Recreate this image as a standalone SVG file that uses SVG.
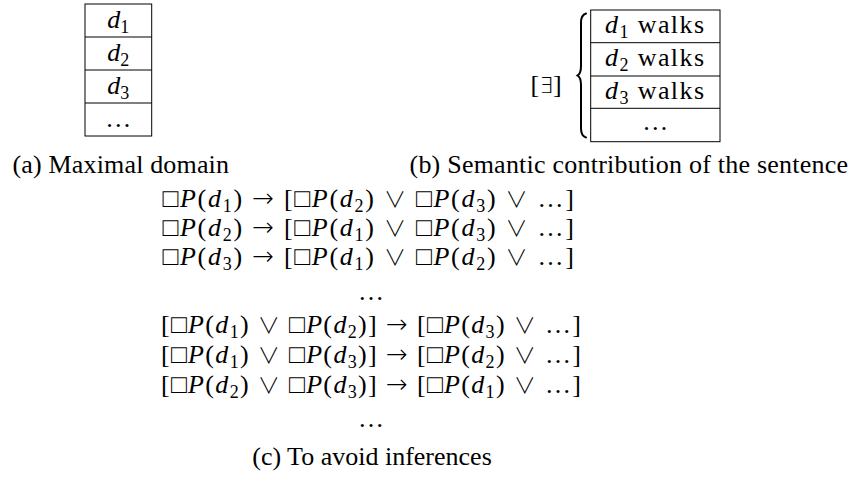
<svg xmlns="http://www.w3.org/2000/svg" width="849" height="485" viewBox="0 0 849 485">
  <style>
    .t { font-family: 'Liberation Serif', 'DejaVu Serif', serif; font-size: 26px; fill: #000; }
    .i { font-style: italic; }
    .s { font-size: 18px; font-style: normal; }
    .ex { font-family: 'DejaVu Sans', sans-serif; font-weight: 200; font-size: 22px; }
    .op { font-family: 'Noto Sans CJK JP', 'DejaVu Sans', sans-serif; font-weight: 300; font-size: 22px; }
    .ar { font-family: 'DejaVu Sans', sans-serif; font-weight: 200; font-size: 26px; }
    .cell { fill: none; stroke: #000; stroke-width: 1; }
    .brace { fill: none; stroke: #000; stroke-width: 2; stroke-linecap: round; }
  </style>
  <rect width="849" height="485" fill="#fff"/>

  <!-- (a) maximal domain: one-column table -->
  <g id="domain-table">
    <rect class="cell" x="85" y="4" width="66.7" height="132"/>
    <line class="cell" x1="85" y1="37" x2="151.7" y2="37"/>
    <line class="cell" x1="85" y1="70" x2="151.7" y2="70"/>
    <line class="cell" x1="85" y1="103" x2="151.7" y2="103"/>
    <text class="t" x="118.3" y="28" text-anchor="middle"><tspan class="i">d</tspan><tspan class="s" dy="5">1</tspan></text>
    <text class="t" x="118.3" y="61" text-anchor="middle"><tspan class="i">d</tspan><tspan class="s" dy="5">2</tspan></text>
    <text class="t" x="118.3" y="94" text-anchor="middle"><tspan class="i">d</tspan><tspan class="s" dy="5">3</tspan></text>
    <text class="t" x="118.3" y="126.5" text-anchor="middle">…</text>
  </g>

  <!-- (b) semantic contribution: [∃] with a brace over the table -->
  <g id="contribution">
    <text class="t" x="530.5" y="93">[<tspan class="ex">∃</tspan>]</text>
    <path class="brace" d="M586,13.5 C582.6,14.6 581,17.5 581,22.5 L581,66 C581,71 580,74 577.5,75.5 C580,77 581,80 581,85 L581,128.5 C581,133.5 582.6,136.4 586,137.5"/>
    <rect class="cell" x="590.7" y="10" width="129.3" height="131.7"/>
    <line class="cell" x1="590.7" y1="42.7" x2="720" y2="42.7"/>
    <line class="cell" x1="590.7" y1="76" x2="720" y2="76"/>
    <line class="cell" x1="590.7" y1="108.3" x2="720" y2="108.3"/>
    <text class="t" x="605" y="33.3" textLength="99" lengthAdjust="spacing"><tspan class="i">d</tspan><tspan class="s" dy="5">1</tspan><tspan dy="-5"> walks</tspan></text>
    <text class="t" x="605" y="66" textLength="99" lengthAdjust="spacing"><tspan class="i">d</tspan><tspan class="s" dy="5">2</tspan><tspan dy="-5"> walks</tspan></text>
    <text class="t" x="605" y="98.7" textLength="99" lengthAdjust="spacing"><tspan class="i">d</tspan><tspan class="s" dy="5">3</tspan><tspan dy="-5"> walks</tspan></text>
    <text class="t" x="655.3" y="130" text-anchor="middle">…</text>
  </g>

  <!-- sub-captions of the top row -->
  <g id="captions-top">
    <text class="t" x="12.5" y="173" textLength="216.5" lengthAdjust="spacing">(a) Maximal domain</text>
    <text class="t" x="409.5" y="173" textLength="438.5" lengthAdjust="spacing">(b) Semantic contribution of the sentence</text>
  </g>

  <!-- (c) implications to be blocked -->
  <g id="inference-list">
    <text class="t" x="162.5" y="207" textLength="411.5" lengthAdjust="spacing">□<tspan class="i">P</tspan>(<tspan class="i">d</tspan><tspan class="s" dy="5">1</tspan><tspan dy="-5">)</tspan> <tspan class="ar">→</tspan> [□<tspan class="i">P</tspan>(<tspan class="i">d</tspan><tspan class="s" dy="5">2</tspan><tspan dy="-5">)</tspan> <tspan class="op">∨</tspan> □<tspan class="i">P</tspan>(<tspan class="i">d</tspan><tspan class="s" dy="5">3</tspan><tspan dy="-5">)</tspan> <tspan class="op">∨</tspan> …]</text>
    <text class="t" x="162.5" y="236" textLength="411.5" lengthAdjust="spacing">□<tspan class="i">P</tspan>(<tspan class="i">d</tspan><tspan class="s" dy="5">2</tspan><tspan dy="-5">)</tspan> <tspan class="ar">→</tspan> [□<tspan class="i">P</tspan>(<tspan class="i">d</tspan><tspan class="s" dy="5">1</tspan><tspan dy="-5">)</tspan> <tspan class="op">∨</tspan> □<tspan class="i">P</tspan>(<tspan class="i">d</tspan><tspan class="s" dy="5">3</tspan><tspan dy="-5">)</tspan> <tspan class="op">∨</tspan> …]</text>
    <text class="t" x="162.5" y="265" textLength="411.5" lengthAdjust="spacing">□<tspan class="i">P</tspan>(<tspan class="i">d</tspan><tspan class="s" dy="5">3</tspan><tspan dy="-5">)</tspan> <tspan class="ar">→</tspan> [□<tspan class="i">P</tspan>(<tspan class="i">d</tspan><tspan class="s" dy="5">1</tspan><tspan dy="-5">)</tspan> <tspan class="op">∨</tspan> □<tspan class="i">P</tspan>(<tspan class="i">d</tspan><tspan class="s" dy="5">2</tspan><tspan dy="-5">)</tspan> <tspan class="op">∨</tspan> …]</text>
    <text class="t" x="371" y="300" text-anchor="middle">…</text>
    <text class="t" x="161" y="333" textLength="420" lengthAdjust="spacing">[□<tspan class="i">P</tspan>(<tspan class="i">d</tspan><tspan class="s" dy="5">1</tspan><tspan dy="-5">)</tspan> <tspan class="op">∨</tspan> □<tspan class="i">P</tspan>(<tspan class="i">d</tspan><tspan class="s" dy="5">2</tspan><tspan dy="-5">)]</tspan> <tspan class="ar">→</tspan> [□<tspan class="i">P</tspan>(<tspan class="i">d</tspan><tspan class="s" dy="5">3</tspan><tspan dy="-5">)</tspan> <tspan class="op">∨</tspan> …]</text>
    <text class="t" x="161" y="363" textLength="420" lengthAdjust="spacing">[□<tspan class="i">P</tspan>(<tspan class="i">d</tspan><tspan class="s" dy="5">1</tspan><tspan dy="-5">)</tspan> <tspan class="op">∨</tspan> □<tspan class="i">P</tspan>(<tspan class="i">d</tspan><tspan class="s" dy="5">3</tspan><tspan dy="-5">)]</tspan> <tspan class="ar">→</tspan> [□<tspan class="i">P</tspan>(<tspan class="i">d</tspan><tspan class="s" dy="5">2</tspan><tspan dy="-5">)</tspan> <tspan class="op">∨</tspan> …]</text>
    <text class="t" x="161" y="393" textLength="420" lengthAdjust="spacing">[□<tspan class="i">P</tspan>(<tspan class="i">d</tspan><tspan class="s" dy="5">2</tspan><tspan dy="-5">)</tspan> <tspan class="op">∨</tspan> □<tspan class="i">P</tspan>(<tspan class="i">d</tspan><tspan class="s" dy="5">3</tspan><tspan dy="-5">)]</tspan> <tspan class="ar">→</tspan> [□<tspan class="i">P</tspan>(<tspan class="i">d</tspan><tspan class="s" dy="5">1</tspan><tspan dy="-5">)</tspan> <tspan class="op">∨</tspan> …]</text>
    <text class="t" x="371" y="427" text-anchor="middle">…</text>
  </g>

  <g id="caption-bottom">
    <text class="t" x="372" y="465" text-anchor="middle">(c) To avoid inferences</text>
  </g>
</svg>
